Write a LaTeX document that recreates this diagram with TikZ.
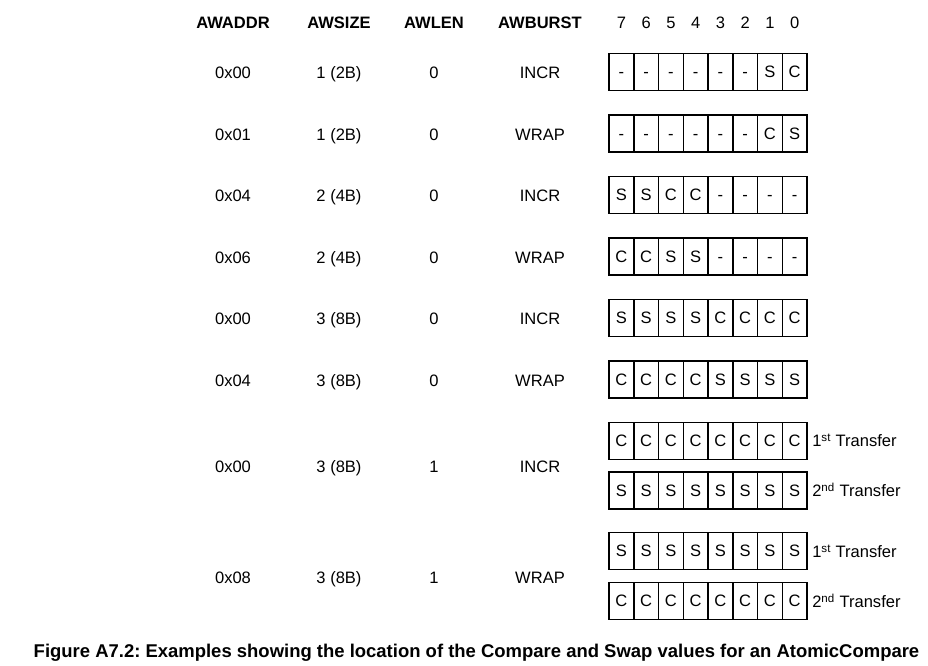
\documentclass[tikz,border=0pt]{standalone}
\usepackage{fontspec}
\setmainfont{Liberation Sans}
\frenchspacing
\begin{document}
\begin{tikzpicture}[x=0.75pt,y=-0.75pt,
  every node/.style={font=\fontsize{12.4}{14}\selectfont, inner sep=0pt, text height=8.9pt, text depth=0pt},
  hdr/.style={font=\fontsize{12.4}{14}\selectfont\bfseries},
  cell/.style={draw, line width=1.15pt, minimum width=18.56pt, minimum height=27.75pt, anchor=center},
  tlabel/.style={anchor=west}]
\useasboundingbox (0,0) rectangle (928,666);
\newcommand\cellrow[3]{%
  \foreach \v [count=\i from 0] in {#3} {%
    \node[cell] (#1-\i) at ({621.4+24.75*\i},#2) {\v};
  }%
}
% headers
\node[hdr] (hA) at (233,23) {AWADDR};
\node[hdr] (hS) at (339,23) {AWSIZE};
\node[hdr] (hL) at (434,23) {AWLEN};
\node[hdr] (hB) at (540,23) {AWBURST};
\foreach \b [count=\i from 0] in {7,6,5,4,3,2,1,0} {
  \node (bit\b) at ({621.4+24.75*\i},23) {\b};
}
% rows
\foreach \n/\y/\a/\s/\l/\t in {1/73/0x00/1 (2B)/0/INCR, 2/135/0x01/1 (2B)/0/WRAP, 3/196/0x04/2 (4B)/0/INCR, 4/258/0x06/2 (4B)/0/WRAP, 5/319/0x00/3 (8B)/0/INCR, 6/381/0x04/3 (8B)/0/WRAP, 7/467/0x00/3 (8B)/1/INCR, 8/578/0x08/3 (8B)/1/WRAP} {
  \node (addr\n) at (233,\y) {\a};
  \node (size\n) at (339,\y) {\s};
  \node (len\n) at (434,\y) {\l};
  \node (burst\n) at (540,\y) {\t};
}
\cellrow{ra}{72}{-,-,-,-,-,-,S,C}
\cellrow{rb}{133.5}{-,-,-,-,-,-,C,S}
\cellrow{rc}{195}{S,S,C,C,-,-,-,-}
\cellrow{rd}{256.5}{C,C,S,S,-,-,-,-}
\cellrow{re}{318}{S,S,S,S,C,C,C,C}
\cellrow{rf}{379.5}{C,C,C,C,S,S,S,S}
\cellrow{rg}{441}{C,C,C,C,C,C,C,C}
\cellrow{rh}{490.5}{S,S,S,S,S,S,S,S}
\cellrow{ri}{551}{S,S,S,S,S,S,S,S}
\cellrow{rj}{601}{C,C,C,C,C,C,C,C}
\node[tlabel] (tg) at (812,441) {1\textsuperscript{st} Transfer};
\node[tlabel] (th) at (812,491) {2\textsuperscript{nd} Transfer};
\node[tlabel] (ti) at (812,552) {1\textsuperscript{st} Transfer};
\node[tlabel] (tj) at (812,602) {2\textsuperscript{nd} Transfer};
% caption
\node[font=\fontsize{13.85}{16}\selectfont\bfseries, text height=10pt] (cap) at (476.5,651) {Figure A7.2: Examples showing the location of the Compare and Swap values for an AtomicCompare};
\end{tikzpicture}
\end{document}
